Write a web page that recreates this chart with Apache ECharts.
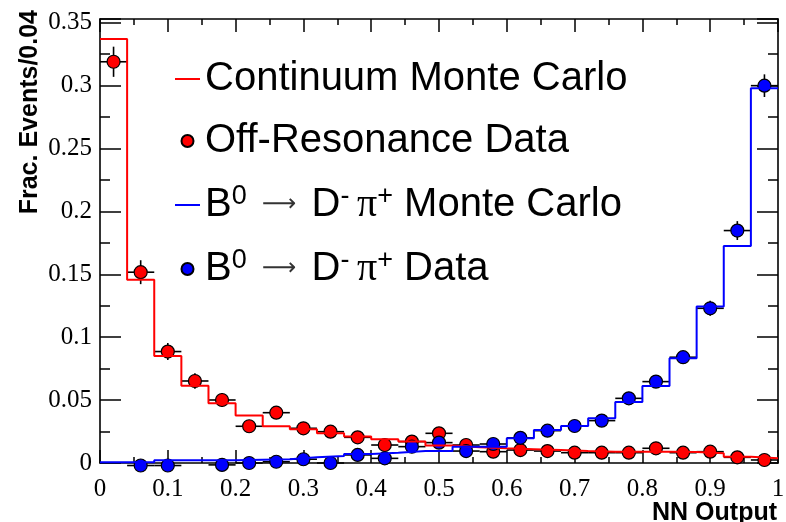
<!DOCTYPE html>
<html>
<head>
<meta charset="utf-8">
<title>NN Output</title>
<script src="https://cdn.jsdelivr.net/npm/echarts@6/dist/echarts.min.js"></script>
<style>
  html, body { margin: 0; padding: 0; background: #fff; }
  #chart { width: 786px; height: 522px; }
</style>
</head>
<body>
<div id="chart"></div>
<script>
// bins of width 0.04 on the NN output
const binEdges = [0, 0.04, 0.08, 0.12, 0.16, 0.2, 0.24, 0.28, 0.32, 0.36, 0.4, 0.44, 0.48,
  0.52, 0.56, 0.6, 0.64, 0.68, 0.72, 0.76, 0.8, 0.84, 0.88, 0.92, 0.96, 1];
const binCenters = [0.02, 0.06, 0.1, 0.14, 0.18, 0.22, 0.26, 0.3, 0.34, 0.38, 0.42, 0.46,
  0.5, 0.54, 0.58, 0.62, 0.66, 0.7, 0.74, 0.78, 0.82, 0.86, 0.9, 0.94, 0.98];

const continuumMC = [0.337, 0.1456, 0.0851, 0.0615, 0.0475, 0.0378, 0.0292, 0.0268, 0.0236,
  0.021, 0.0188, 0.017, 0.014, 0.0125, 0.0117, 0.011, 0.0103, 0.0095, 0.009, 0.009, 0.009,
  0.0088, 0.0077, 0.005, 0.0037];
const offResData = [0.319, 0.1517, 0.0886, 0.0652, 0.0501, 0.0292, 0.040, 0.0276, 0.0249,
  0.0204, 0.0143, 0.017, 0.0236, 0.0143, 0.009, 0.0103, 0.0095, 0.0082, 0.0082, 0.0082,
  0.0117, 0.0082, 0.009, 0.0045, 0.0024];
const offResErr = [0.012, 0.0095, 0.0068, 0.0062, 0.0055, 0.005, 0.005, 0.0045, 0.0045,
  0.004, 0.004, 0.004, 0.004, 0.004, 0.004, 0.004, 0.004, 0.004, 0.004, 0.004, 0.004,
  0.004, 0.004, 0.004, 0.004];

const signalMC = [0.0005, 0.0005, 0.0022, 0.0022, 0.0022, 0.0026, 0.003, 0.0045, 0.0056,
  0.0072, 0.0082, 0.0095, 0.0095, 0.013, 0.013, 0.0196, 0.0263, 0.0294, 0.0355, 0.0485,
  0.0613, 0.0833, 0.1244, 0.1726, 0.298];
const signalData = [null, -0.002, -0.002, null, -0.0015, 0.0, 0.001, 0.003, 0.0, 0.0064,
  0.0037, 0.013, 0.0162, 0.0095, 0.0151, 0.02, 0.0257, 0.0294, 0.0337, 0.0514, 0.0647,
  0.0841, 0.123, 0.1848, 0.300];
const signalErr = [0.004, 0.004, 0.004, 0.004, 0.004, 0.004, 0.004, 0.004, 0.004, 0.004,
  0.004, 0.004, 0.004, 0.004, 0.004, 0.004, 0.004, 0.004, 0.004, 0.0045, 0.005, 0.005,
  0.006, 0.0075, 0.009];

const legendNames = ['Continuum Monte Carlo', 'Off-Resonance Data',
  'B⁰ → D⁻ π⁺ Monte Carlo', 'B⁰ → D⁻ π⁺ Data'];
const legendLabels = {
  'Continuum Monte Carlo': '{t|Continuum Monte Carlo}',
  'Off-Resonance Data': '{t|Off-Resonance Data}',
  'B⁰ → D⁻ π⁺ Monte Carlo': '{t|B}{sup|0}{arr|  ⟶  }{t|D}{sup|- }{pi|π}{sup|+}{t| Monte Carlo}',
  'B⁰ → D⁻ π⁺ Data': '{t|B}{sup|0}{arr|  ⟶  }{t|D}{sup|- }{pi|π}{sup|+}{t| Data}'
};

const SANS = '"Liberation Sans", Arial, Helvetica, sans-serif';
const SERIF = '"Liberation Serif", "Times New Roman", serif';
const LINE_ICON = 'path://M0,0H25V2H0Z';

// step histogram: one point per lower bin edge, plus the closing edge
function histPoints(values) {
  const pts = values.map((v, i) => [binEdges[i], v]);
  pts.push([binEdges[values.length], values[values.length - 1]]);
  return pts;
}

function pointsWithErrors(values, errs) {
  const out = [];
  values.forEach((v, i) => {
    if (v === null) return;
    out.push([binCenters[i], v, binEdges[i], binEdges[i + 1], errs[i]]);
  });
  return out;
}

function renderErrorBar(params, api) {
  const y = api.value(1);
  const err = api.value(4);
  const left = api.coord([api.value(2), y]);
  const right = api.coord([api.value(3), y]);
  const top = api.coord([api.value(0), y + err]);
  const bottom = api.coord([api.value(0), y - err]);
  const style = { stroke: '#000', lineWidth: 1.6 };
  return {
    type: 'group',
    children: [
      { type: 'line', shape: { x1: left[0], y1: left[1], x2: right[0], y2: right[1] }, style: style },
      { type: 'line', shape: { x1: top[0], y1: top[1], x2: bottom[0], y2: bottom[1] }, style: style }
    ]
  };
}

const offResPts = pointsWithErrors(offResData, offResErr);
const signalPts = pointsWithErrors(signalData, signalErr);

const frameLine = { show: true, onZero: false, lineStyle: { color: '#000', width: 1.6 } };

function xAxisDef(position, showLabels) {
  return {
    type: 'value', position: position, min: 0, max: 1, interval: 0.1,
    axisLine: frameLine,
    axisTick: { show: true, inside: true, length: 13, lineStyle: { color: '#000', width: 1.5 } },
    minorTick: { show: true, splitNumber: 2, length: 6, lineStyle: { color: '#000', width: 1.5 } },
    splitLine: { show: false },
    axisLabel: {
      show: showLabels, color: '#000', fontFamily: SERIF, fontSize: 25, margin: 14
    }
  };
}

function yAxisDef(position, showLabels) {
  return {
    type: 'value', position: position, min: 0, max: 0.353, interval: 0.05,
    axisLine: frameLine,
    axisTick: { show: true, inside: true, length: 21, lineStyle: { color: '#000', width: 1.5 } },
    minorTick: { show: true, splitNumber: 2, length: 10, lineStyle: { color: '#000', width: 1.5 } },
    splitLine: { show: false },
    axisLabel: {
      show: showLabels, color: '#000', fontFamily: SERIF, fontSize: 25, margin: 8,
      showMaxLabel: false
    }
  };
}

const yLeft = yAxisDef('left', true);
yLeft.name = 'Frac. Events/0.04';
yLeft.nameLocation = 'end';
yLeft.nameRotate = 90;
yLeft.nameGap = 9;
yLeft.nameTextStyle = {
  fontFamily: SANS, fontWeight: 'bold', fontSize: 25, color: '#000',
  align: 'right', verticalAlign: 'bottom', padding: [0, 0, 57, 0]
};

const chart = echarts.init(document.getElementById('chart'), null, { renderer: 'canvas' });

chart.setOption({
  animation: false,
  backgroundColor: '#fff',
  grid: { left: 100, right: 8, top: 19, bottom: 59, containLabel: false, outerBoundsMode: 'none' },
  xAxis: [xAxisDef('bottom', true), xAxisDef('top', false)],
  yAxis: [yLeft, yAxisDef('right', false)],
  graphic: [{
    type: 'text', right: 9, top: 501,
    style: { text: 'NN Output', fontFamily: SANS, fontWeight: 'bold', fontSize: 25, fill: '#000' }
  }],
  legend: {
    data: [
      { name: legendNames[0], icon: LINE_ICON },
      { name: legendNames[1], icon: 'circle' },
      { name: legendNames[2], icon: LINE_ICON },
      { name: legendNames[3], icon: 'circle' }
    ],
    orient: 'vertical',
    left: 170,
    top: 54,
    itemWidth: 25,
    itemHeight: 12,
    itemGap: 22,
    selectedMode: false,
    formatter: name => legendLabels[name],
    textStyle: {
      rich: {
        t: { fontFamily: SANS, fontSize: 40, lineHeight: 44, color: '#000' },
        arr: { fontFamily: '"DejaVu Sans", sans-serif', fontSize: 24, lineHeight: 44, color: '#333' },
        pi: { fontFamily: SERIF, fontSize: 40, lineHeight: 44, color: '#000' },
        sup: { fontFamily: SANS, fontSize: 27, lineHeight: 24, verticalAlign: 'top', color: '#000' }
      }
    }
  },
  series: [
    {
      name: 'Continuum Monte Carlo', type: 'line', step: 'end',
      data: histPoints(continuumMC), symbol: 'none', showSymbol: false, clip: false,
      lineStyle: { color: '#ff0000', width: 2 }, itemStyle: { color: '#ff0000' }
    },
    {
      name: 'Off-Resonance errors', type: 'custom', renderItem: renderErrorBar,
      data: offResPts, encode: { x: 0, y: 1 }, clip: false, silent: true
    },
    {
      name: 'Off-Resonance Data', type: 'scatter', data: offResPts, symbol: 'circle',
      symbolSize: 13, clip: false,
      itemStyle: { color: '#ff0000', borderColor: '#000', borderWidth: 1.2, opacity: 1 }
    },
    {
      name: 'B⁰ → D⁻ π⁺ Monte Carlo', type: 'line', step: 'end',
      data: histPoints(signalMC), symbol: 'none', showSymbol: false, clip: false,
      lineStyle: { color: '#0000ff', width: 2 }, itemStyle: { color: '#0000ff' }
    },
    {
      name: 'B⁰ → D⁻ π⁺ errors', type: 'custom', renderItem: renderErrorBar,
      data: signalPts, encode: { x: 0, y: 1 }, clip: false, silent: true
    },
    {
      name: 'B⁰ → D⁻ π⁺ Data', type: 'scatter', data: signalPts, symbol: 'circle',
      symbolSize: 13, clip: false,
      itemStyle: { color: '#0000ff', borderColor: '#000', borderWidth: 1.2, opacity: 1 }
    }
  ]
});
</script>
</body>
</html>
